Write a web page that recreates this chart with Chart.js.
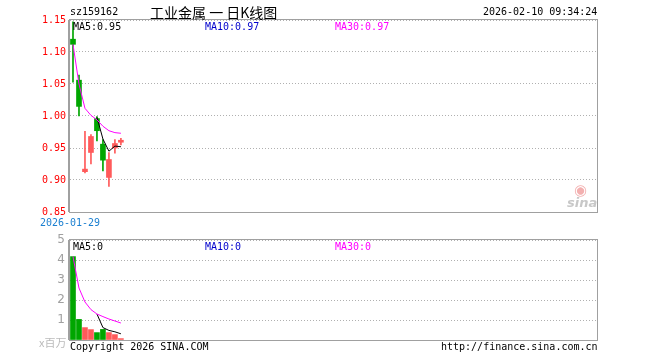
<!DOCTYPE html>
<html>
<head>
<meta charset="utf-8">
<script src="https://cdn.jsdelivr.net/npm/chart.js@4.4.1/dist/chart.umd.min.js"></script>
<style>
    body { margin: 0; background: #fff; }
    #wrap { position: relative; width: 660px; height: 360px; overflow: hidden; }
    #wrap canvas { position: absolute; left: 0; top: 0; }
    .txt { position: absolute; font: 10px "DejaVu Sans Mono", monospace; white-space: nowrap; line-height: 12px; }
</style>
</head>
<body>
<div id="wrap">
    <canvas id="kChart" width="660" height="360"></canvas>
    <canvas id="volChart" width="660" height="360"></canvas>

    <div class="txt" style="left:70px; top:6px; color:#000;">sz159162</div>
    <div class="txt" style="left:150px; top:3px; color:#000; font:14px 'Noto Sans CJK SC'; line-height:18px;">工业金属 一 日K线图</div>
    <div class="txt" style="left:483px; top:6px; color:#000;">2026-02-10 09:34:24</div>

    <div class="txt" style="left:73px; top:21px; color:#000;">MA5:0.95</div>
    <div class="txt" style="left:205px; top:21px; color:#00c;">MA10:0.97</div>
    <div class="txt" style="left:335px; top:21px; color:#f0f;">MA30:0.97</div>

    <div class="txt" style="left:73px; top:241px; color:#000;">MA5:0</div>
    <div class="txt" style="left:205px; top:241px; color:#00c;">MA10:0</div>
    <div class="txt" style="left:335px; top:241px; color:#f0f;">MA30:0</div>

    <div class="txt" style="left:39px; top:334px; color:#bbb; font:11px 'Noto Sans CJK SC';">x百万</div>
    <div class="txt" style="left:70px; top:341px; color:#000;">Copyright 2026 SINA.COM</div>
    <div class="txt" style="left:441px; top:341px; color:#000;">http://finance.sina.com.cn</div>

    <div class="txt" style="left:574px; top:182px; color:#f3b0b0; font:bold 15px 'DejaVu Sans'; line-height:16px;">◉</div>
    <div class="txt" style="left:567px; top:195px; color:#c8c8c8; font:italic bold 13px 'DejaVu Sans';">sina</div>
</div>

<script>
// 日K数据 (sz159162)
var ngay = ['2026-01-29', '2026-01-30', '2026-02-02', '2026-02-03', '2026-02-04', '2026-02-05', '2026-02-06', '2026-02-09', '2026-02-10'];
var giaMo = [1.120, 1.056, 0.913, 0.943, 0.996, 0.956, 0.904, 0.950, 0.959];
var giaDong = [1.112, 1.015, 0.917, 0.968, 0.977, 0.931, 0.932, 0.957, 0.961];
var giaCao = [1.147, 1.064, 0.976, 0.971, 0.999, 0.963, 0.943, 0.963, 0.965];
var giaThap = [1.053, 1.000, 0.911, 0.925, 0.961, 0.914, 0.890, 0.942, 0.955];
var ma5Gia = [null, null, null, null, 0.998, 0.964, 0.945, 0.953, 0.952];
var ma30Gia = [1.112, 1.050, 1.012, 1.001, 0.994, 0.984, 0.977, 0.974, 0.973];

// 成交量 (百万)
var khoiLuong = [4.17, 1.03, 0.62, 0.52, 0.37, 0.53, 0.37, 0.27, 0.07];
var ma5KL = [null, null, null, null, 1.30, 0.62, 0.48, 0.41, 0.31];
var ma30KL = [4.17, 2.60, 1.90, 1.52, 1.30, 1.17, 1.05, 0.95, 0.85];

var giaTicks = [0.85, 0.90, 0.95, 1.00, 1.05, 1.10, 1.15];
var klTicks = [0, 1, 2, 3, 4, 5];
var soO = 88;

var DO = '#ff5a5a';
var XANH = '#00a600';

var nhan = [];
for (var i = 0; i < soO; i++) {
    nhan.push(i < ngay.length ? ngay[i] : '');
}

var than = [];
var bac = [];
var mauNen = [];
for (var i = 0; i < ngay.length; i++) {
    than.push([giaMo[i], giaDong[i]]);
    bac.push([giaThap[i], giaCao[i]]);
    mauNen.push(giaDong[i] >= giaMo[i] ? DO : XANH);
}

// frame round the plot area
var khung = {
    id: 'khung',
    beforeDatasetsDraw: function (chart) {
        var a = chart.chartArea;
        var ctx = chart.ctx;
        ctx.save();
        ctx.strokeStyle = '#a0a0a0';
        ctx.lineWidth = 1;
        ctx.strokeRect(Math.round(a.left) - 0.5, Math.round(a.top) - 0.5,
            Math.round(a.right - a.left) + 1, Math.round(a.bottom - a.top) + 1);
        ctx.fillStyle = '#a0a0a0';
        ctx.fillRect(Math.round(a.left) - 2, Math.round(a.top), 1, Math.round(a.bottom - a.top));
        ctx.restore();
    }
};

var chungX = function (hienNgay) {
    return {
        type: 'category',
        offset: true,
        grid: { display: false, drawTicks: false },
        border: { display: false },
        afterFit: function (scale) { scale.height = 20; },
        ticks: {
            display: hienNgay,
            autoSkip: false,
            maxRotation: 0,
            padding: 5,
            labelOffset: -3,
            color: '#1a7fd0',
            font: { family: 'DejaVu Sans Mono', size: 10 },
            callback: function (v, idx) { return idx === 0 ? nhan[0] : ''; }
        }
    };
};

new Chart(document.getElementById('kChart').getContext('2d'), {
    data: {
        labels: nhan,
        datasets: [
            {
                type: 'line', data: ma30Gia, borderColor: '#ff00ff', borderWidth: 1,
                pointRadius: 0, tension: 0, spanGaps: false, order: 0
            },
            {
                type: 'line', data: ma5Gia, borderColor: '#000000', borderWidth: 1,
                pointRadius: 0, tension: 0, spanGaps: false, order: 0
            },
            {
                type: 'bar', data: than, backgroundColor: mauNen, barThickness: 5,
                grouped: false, minBarLength: 2, order: 1
            },
            {
                type: 'bar', data: bac, backgroundColor: mauNen, barThickness: 1,
                grouped: false, order: 2
            }
        ]
    },
    options: {
        responsive: false,
        animation: false,
        devicePixelRatio: 1,
        layout: { padding: { top: 20, right: 63, bottom: 128, left: 0 } },
        plugins: { legend: { display: false }, tooltip: { enabled: false } },
        scales: {
            x: chungX(true),
            y: {
                min: 0.85,
                max: 1.15,
                afterFit: function (scale) { scale.width = 70; },
                afterBuildTicks: function (scale) {
                    scale.ticks = giaTicks.map(function (v) { return { value: v }; });
                },
                grid: { color: '#b0b0b0', drawTicks: false },
                border: { display: false, dash: [1, 2] },
                ticks: {
                    padding: 4,
                    color: '#ff0000',
                    font: { family: 'DejaVu Sans Mono', size: 10 },
                    callback: function (v) { return Number(v).toFixed(2); }
                }
            }
        }
    },
    plugins: [khung]
});

new Chart(document.getElementById('volChart').getContext('2d'), {
    data: {
        labels: nhan,
        datasets: [
            {
                type: 'line', data: ma30KL, borderColor: '#ff00ff', borderWidth: 1,
                pointRadius: 0, tension: 0, order: 0
            },
            {
                type: 'line', data: ma5KL, borderColor: '#000000', borderWidth: 1,
                pointRadius: 0, tension: 0, order: 0
            },
            {
                type: 'bar', data: khoiLuong, backgroundColor: mauNen, barThickness: 5,
                grouped: false, order: 1
            }
        ]
    },
    options: {
        responsive: false,
        animation: false,
        devicePixelRatio: 1,
        layout: { padding: { top: 240, right: 63, bottom: 0, left: 0 } },
        plugins: { legend: { display: false }, tooltip: { enabled: false } },
        scales: {
            x: chungX(false),
            y: {
                min: 0,
                max: 5,
                afterFit: function (scale) { scale.width = 70; },
                afterBuildTicks: function (scale) {
                    scale.ticks = klTicks.map(function (v) { return { value: v }; });
                },
                grid: { color: '#b0b0b0', drawTicks: false },
                border: { display: false, dash: [1, 2] },
                ticks: {
                    padding: 5,
                    color: '#a0a0a0',
                    font: { family: 'DejaVu Sans', size: 12 },
                    // 0 nằm chỗ chữ "x百万"
                    callback: function (v) { return v === 0 ? '' : v; }
                }
            }
        }
    },
    plugins: [khung]
});
</script>
</body>
</html>
